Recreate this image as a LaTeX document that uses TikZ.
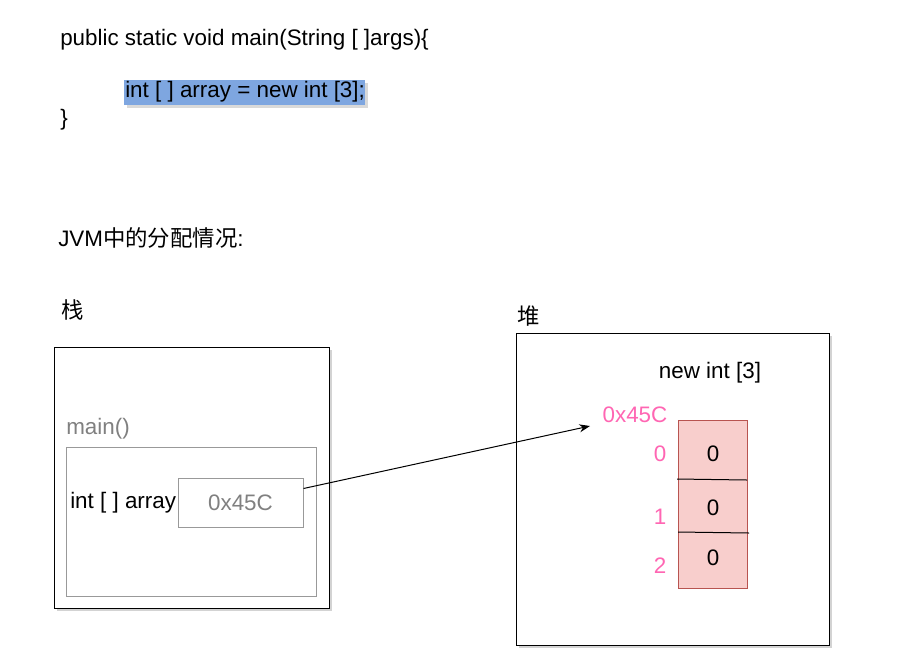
\documentclass[tikz,border=0pt]{standalone}
\usepackage{fontspec}
\setmainfont{Liberation Sans}
\newfontfamily\cjk{Noto Sans CJK SC}
\usetikzlibrary{shadows,arrows.meta}
\definecolor{hl}{HTML}{7EA6E0}
\definecolor{pinkt}{HTML}{FF66B3}
\definecolor{cellf}{HTML}{F8CECC}
\definecolor{celld}{HTML}{B85450}
\tikzset{
  txt/.style={inner sep=0pt,font=\fontsize{16.8}{18}\selectfont,anchor=west},
  ctxt/.style={inner sep=0pt,font=\fontsize{16.8}{18}\selectfont},
  outer/.style={draw=black,fill=white,line width=0.75pt,drop shadow={shadow xshift=2.5pt,shadow yshift=-2.5pt,opacity=0.35}},
  grayb/.style={draw=gray!80,line width=0.75pt},
}
\begin{document}
\begin{tikzpicture}[x=0.75pt,y=-0.75pt]
\useasboundingbox (0,0) rectangle (920,664);
% code
\node[txt] (l1) at (60,40) {public static void main(String [ ]args)\{};
\fill[hl,drop shadow={shadow xshift=2.5pt,shadow yshift=-2.5pt,opacity=0.3}] (124,80) rectangle (365,105);
\node[txt] (l2) at (125,92) {int [ ] array = new int [3];};
\node[txt] (l3) at (60,120) {\}};
\node[txt] (jvm) at (58,238) {JVM{\cjk 中的分配情况}:};
\node[txt] (zhan) at (61,310) {\cjk 栈};
\node[txt] (dui) at (517,316) {\cjk 堆};
% stack
\draw[outer] (54,347) rectangle (329,608);
\node[txt,text=gray] (mainl) at (66,429) {main()};
\draw[grayb] (66,447) rectangle (316,596);
\node[txt] (arr) at (70,503) {int [ ] array};
\node[grayb,minimum width=125*0.75pt,minimum height=49*0.75pt,inner sep=0pt,font=\fontsize{16.8}{18}\selectfont,text=gray] (ref) at (240.5,502.5) {0x45C};
% heap
\draw[outer] (516,333) rectangle (829,645);
\node[ctxt] (newl) at (710,373) {new int [3]};
\node[ctxt,text=pinkt] (addr) at (635,415) {0x45C};
\node[draw=celld,fill=cellf,line width=0.75pt,minimum width=69*0.75pt,minimum height=168*0.75pt,inner sep=0pt] (cells) at (712.5,504) {};
\draw[line width=0.75pt] (677,479) -- (747,480);
\draw[line width=0.75pt] (678,532) -- (749,533);
\node[ctxt] (v0) at (713,454) {0};
\node[ctxt] (v1) at (713,508) {0};
\node[ctxt] (v2) at (713,558) {0};
\node[ctxt,text=pinkt] (i0) at (660,454) {0};
\node[ctxt,text=pinkt] (i1) at (660,517) {1};
\node[ctxt,text=pinkt] (i2) at (660,566) {2};
\coordinate (tip) at (590,426);
\draw[-{Stealth[length=8pt,width=6pt]},line width=0.75pt] (ref.east) ++(0,-14) -- (tip);
\end{tikzpicture}
\end{document}
